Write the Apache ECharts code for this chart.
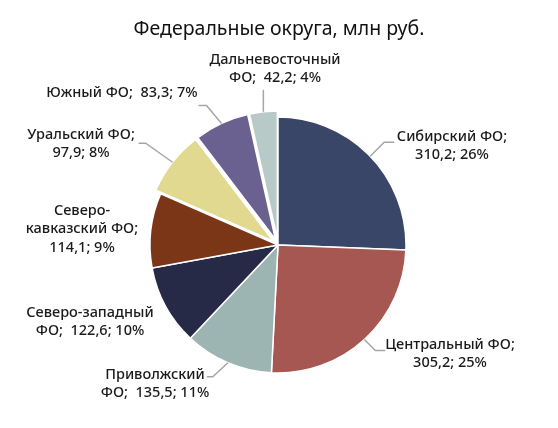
<!DOCTYPE html>
<html>
<head>
<meta charset="utf-8">
<script src="https://cdn.jsdelivr.net/npm/echarts@6/dist/echarts.min.js"></script>
<style>
html,body{margin:0;padding:0;background:#fff;}
#chart{width:558px;height:428px;}
</style>
</head>
<body>
<div id="chart"></div>
<script>
// ---- data ----
var categories = ['Сибирский ФО','Центральный ФО','Приволжский ФО','Северо-западный ФО','Северо-кавказский ФО','Уральский ФО','Южный ФО','Дальневосточный ФО'];
var values = [310.2, 305.2, 135.5, 122.6, 114.1, 97.9, 83.3, 42.2];
var percents = [26, 25, 11, 10, 9, 8, 7, 4];
var exploded = [false, false, false, false, false, true, true, true];
var colors = ['#3a4668', '#a65752', '#9db5b2', '#262a46', '#7b3617', '#e1d98f', '#6a6191', '#b8cac8'];

// ---- label text layout (line breaks) ----
var labelNames = ['Сибирский ФО','Центральный ФО','Приволжский\nФО','Северо-западный\nФО','Северо-\nкавказский ФО','Уральский ФО','Южный ФО','Дальневосточный\nФО'];
var labelSeps = [';\n', ';\n', ';  ', ';  ', ';\n', ';\n', ';  ', ';  '];

// ---- style / placement ----
var CENTER = [278, 245];
var RADIUS = 128;
var OFFSET = 6;
var labelPos = [[452,146],[450,354],[155,384],[90,322],[82,229],[81,144],[122,93],[275,69]];
var lineShape = [[14,-14,10],[11,11,10],[-15,14,-6],null,null,[-27,-19,-7],[-15,-18,-8],[0,-22,0]];
var FONT = { fontFamily: 'Noto Sans', fontSize: 14.5, fontWeight: 500, color: '#1a1a1a', lineHeight: 18.5 };

function fmtNum(v){ return v.toFixed(1).replace('.', ','); }

var chart = echarts.init(document.getElementById('chart'), null, {renderer:'canvas'});
chart.setOption({
  animation: false,
  backgroundColor: '#ffffff',
  title: {
    text: 'Федеральные округа, млн руб.',
    left: 'center',
    top: 14,
    textStyle: { fontFamily: 'Noto Sans', fontSize: 19.5, fontWeight: 'normal', color: '#111' }
  },
  series: [{
    // visible slices (exploded ones offset via selection)
    type: 'pie',
    center: CENTER,
    radius: RADIUS,
    startAngle: 90,
    clockwise: true,
    selectedMode: 'multiple',
    selectedOffset: OFFSET,
    silent: true,
    itemStyle: { borderColor: '#ffffff', borderWidth: 1.5 },
    select: { itemStyle: { borderColor: '#ffffff', borderWidth: 1.5 } },
    emphasis: { disabled: true },
    label: { show: false },
    labelLine: { show: false },
    data: categories.map(function(n, i){
      return { name: n, value: values[i], selected: exploded[i], itemStyle: { color: colors[i] } };
    })
  }, {
    // transparent copy carrying the labels
    type: 'pie',
    center: CENTER,
    radius: RADIUS,
    startAngle: 90,
    clockwise: true,
    silent: true,
    z: 3,
    avoidLabelOverlap: false,
    itemStyle: { color: 'rgba(0,0,0,0)', borderWidth: 0 },
    emphasis: { disabled: true },
    label: Object.assign({
      show: true,
      position: 'outside',
      align: 'center',
      formatter: function(p){
        var i = p.dataIndex;
        return labelNames[i] + labelSeps[i] + fmtNum(values[i]) + '; ' + percents[i] + '%';
      }
    }, FONT),
    labelLine: { show: true, lineStyle: { color: '#a6a6a6', width: 1.5 } },
    labelLayout: function(params){
      var i = params.dataIndex;
      var out = { x: labelPos[i][0], y: labelPos[i][1], align: 'center', verticalAlign: 'middle' };
      var s = lineShape[i];
      if (s && params.labelLinePoints) {
        var p0 = params.labelLinePoints[0].slice();
        if (exploded[i]) {
          var dx = p0[0] - CENTER[0], dy = p0[1] - CENTER[1];
          var len = Math.sqrt(dx*dx + dy*dy) || 1;
          p0 = [p0[0] + dx/len*OFFSET, p0[1] + dy/len*OFFSET];
        }
        var p1 = [p0[0] + s[0], p0[1] + s[1]];
        var p2 = [p1[0] + s[2], p1[1]];
        out.labelLinePoints = [p0, p1, p2];
      } else {
        out.labelLinePoints = [[0,0],[0,0],[0,0]];
      }
      return out;
    },
    data: categories.map(function(n, i){
      return { name: n, value: values[i], labelLine: { show: !!lineShape[i] } };
    })
  }]
});
</script>
</body>
</html>
